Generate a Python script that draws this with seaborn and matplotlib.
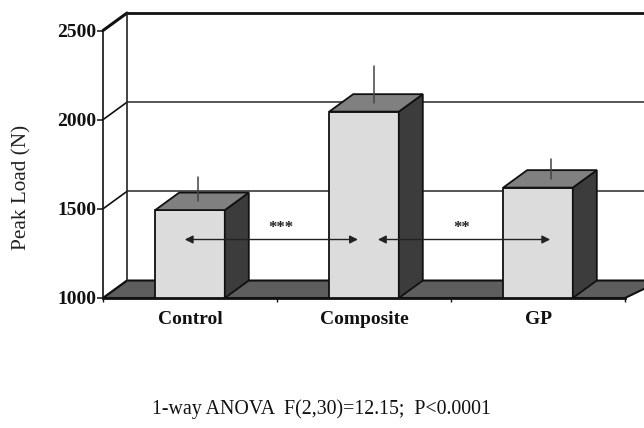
import seaborn as sns
import matplotlib
matplotlib.use('Agg')
import matplotlib.pyplot as plt
from matplotlib.patches import Polygon
import pandas as pd

groups = ['Control', 'Composite', 'GP']
peak_load = [1493, 2045, 1619]
errors = [135, 206, 113]
error_x = [0.046, 1.057, 2.075]
y_ticks = [1000, 1500, 2000, 2500]

# arrows between groups: start, end (category position), height
arrow_pairs = [(-0.03, 0.965), (1.08, 2.07)]
arrow_level = 1328
star_labels = ['***', '**']
star_x = [0.52, 1.56]
star_level = 1390

sns.set_style('white')
plt.rcParams['font.family'] = ['Liberation Serif', 'DejaVu Serif']

df = pd.DataFrame({'group': groups, 'load': peak_load})

fig = plt.figure(figsize=(6.44, 4.28), dpi=100)
ax = fig.add_axes([103 / 644, 1 - 298 / 428, 522 / 644, 267.5 / 428])
ax.patch.set_alpha(0)

# fake 3d depth, in data units
dx = 24 / 174
dy = 98
bar_w = 0.4
x_low, x_high = -0.5, 2.5
x_end = x_high + 19 / 174

ax.set_xlim(x_low, x_high)
ax.set_ylim(1000, 2500)

# floor
ax.add_patch(Polygon([(x_low, 1000), (x_low + dx, 1000 + dy), (x_end + 0.1, 1000 + dy), (x_high, 1000)],
                     closed=True, fc='#5e5e5e', ec='#111111', lw=1.5, clip_on=False, zorder=1))

# back wall
for i, t in enumerate(y_ticks):
    top = t == 2500
    ax.plot([x_low, x_low + dx], [t, t + dy], color='#111111', lw=2.2 if top else 1.2, clip_on=False, zorder=1)
    if t > 1000:
        ax.plot([x_low + dx, x_end + 0.1], [t + dy, t + dy], color='#111111' if top else '#555555',
                lw=2 if top else 1.4, clip_on=False, zorder=1)
ax.plot([x_low + dx, x_low + dx], [1000 + dy, 2500 + dy], color='#222222', lw=1.2, clip_on=False, zorder=1)

# front faces
sns.barplot(data=df, x='group', y='load', color='#dcdcdc', saturation=1, width=bar_w,
            edgecolor='#111111', linewidth=1.3, ax=ax, zorder=3)

for i, v in enumerate(peak_load):
    l, r = i - bar_w / 2, i + bar_w / 2
    side = [(r, 1000), (r + dx, 1000 + dy), (r + dx, v + dy), (r, v)]
    roof = [(l, v), (l + dx, v + dy), (r + dx, v + dy), (r, v)]
    ax.add_patch(Polygon(side, closed=True, fc='#3c3c3c', ec='#111111', lw=1.3, clip_on=False, zorder=3))
    ax.add_patch(Polygon(roof, closed=True, fc='#808080', ec='#111111', lw=1.3, clip_on=False, zorder=3))
    ax.plot([error_x[i], error_x[i]], [v + dy / 2, v + dy / 2 + errors[i]], color='#444444', lw=1.1,
            clip_on=False, zorder=4)

# significance arrows
for (a, b), s, sx in zip(arrow_pairs, star_labels, star_x):
    ax.annotate('', xy=(a, arrow_level), xytext=(b, arrow_level), zorder=5,
                arrowprops=dict(arrowstyle='<|-|>', color='#222222', lw=1, mutation_scale=12, shrinkA=0, shrinkB=0))
    ax.text(sx, star_level, s, ha='center', va='center', fontsize=12, fontweight='bold', color='#222222', zorder=5)

sns.despine(ax=ax, top=True, right=True)
ax.spines['left'].set_color('#111111')
ax.spines['left'].set_linewidth(1.2)
ax.spines['bottom'].set_color('#111111')
ax.spines['bottom'].set_linewidth(2)
ax.spines['bottom'].set_zorder(6)

ax.set_yticks(y_ticks)
ax.set_xticks([0, 1, 2])
ax.set_xticklabels(groups)
ax.set_xticks([-0.5, 0.5, 1.5, 2.5], minor=True)
ax.tick_params(axis='y', left=True, length=4, width=1.1, color='#111111', pad=1, labelsize=14)
ax.tick_params(axis='x', which='major', bottom=False, length=0, pad=9, labelsize=14)
ax.tick_params(axis='x', which='minor', bottom=True, length=3, width=1, color='#111111')
for lab in ax.get_xticklabels() + ax.get_yticklabels():
    lab.set_fontweight('bold')
    lab.set_color('#111111')

ax.set_xlabel('')
ax.set_ylabel('')
fig.text(22 / 644, 1 - 187 / 428, 'Peak Load (N)', rotation=90, ha='center', va='center', fontsize=15.3, color='#222222')
fig.text(321 / 644, 1 - 409 / 428, '1-way ANOVA  F(2,30)=12.15;  P<0.0001', ha='center', va='center',
         fontsize=14.3, color='#111111')

fig.savefig('out.png', dpi=100)
